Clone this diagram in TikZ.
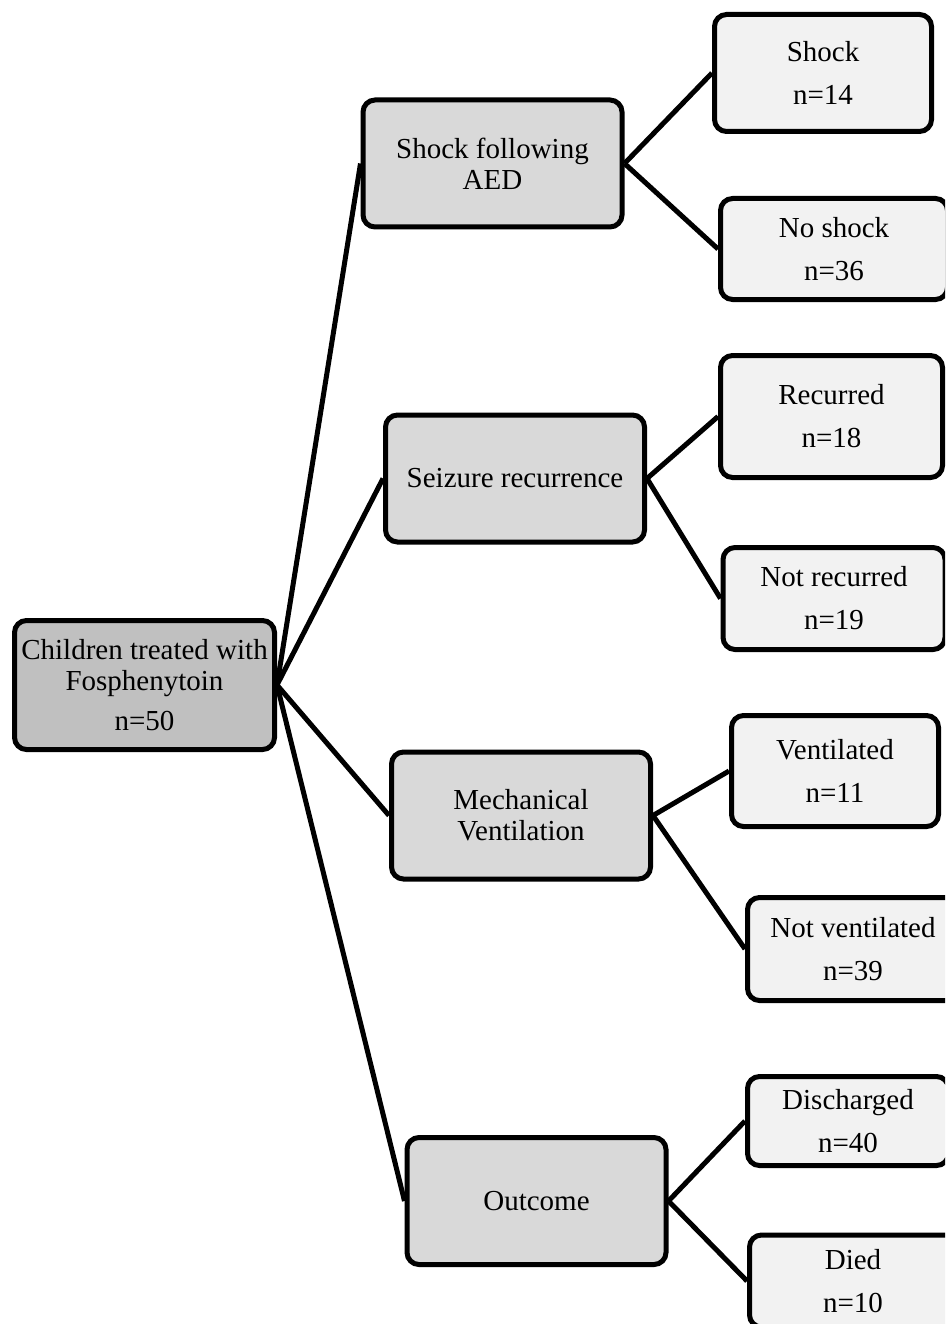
\documentclass[tikz,border=0pt]{standalone}
\usepackage{fontspec}
\setmainfont{Liberation Serif}
\definecolor{rootgray}{HTML}{C0C0C0}
\definecolor{midgray}{HTML}{D9D9D9}
\definecolor{leafgray}{HTML}{F2F2F2}
\begin{document}
\begin{tikzpicture}[x=1pt,y=-1pt,line width=5pt,
		box/.style={draw,rounded corners=12pt,align=center,inner sep=2pt,font=\fontsize{29}{31}\selectfont},
		rootbox/.style={box,fill=rootgray,minimum width=260pt,minimum height=129pt},
		midbox/.style={box,fill=midgray,minimum width=259pt,minimum height=127pt},
		leafbox/.style={box,fill=leafgray}]
		\path[use as bounding box,clip] (0,0) rectangle (945,1324);
		\node[rootbox] (fos) at (144.5,685) {Children treated with\\Fosphenytoin\\[9pt]n=50};
		\node[midbox] (shockq) at (492.5,163.5) {Shock following\\AED};
		\node[midbox] (seiz) at (515,478.5) {Seizure recurrence};
		\node[midbox] (mech) at (521,815.5) {Mechanical\\Ventilation};
		\node[midbox] (outc) at (536.5,1201) {Outcome};
		\node[leafbox,minimum width=217pt,minimum height=117pt] (shock) at (823,73) {Shock\\[12pt]n=14};
		\node[leafbox,minimum width=227pt,minimum height=101pt] (noshock) at (834,249) {No shock\\[12pt]n=36};
		\node[leafbox,minimum width=222pt,minimum height=122pt] (rec) at (831.5,416.5) {Recurred\\[12pt]n=18};
		\node[leafbox,minimum width=222pt,minimum height=102pt] (norec) at (834,598.5) {Not recurred\\[12pt]n=19};
		\node[leafbox,minimum width=207pt,minimum height=111pt] (vent) at (835,771) {Ventilated\\[12pt]n=11};
		\node[leafbox,minimum width=211pt,minimum height=103pt] (novent) at (853,949) {Not ventilated\\[12pt]n=39};
		\node[leafbox,minimum width=201pt,minimum height=89pt] (disch) at (848,1121) {Discharged\\[12pt]n=40};
		\node[leafbox,minimum width=207pt,minimum height=92pt] (died) at (853,1281) {Died\\[12pt]n=10};
		\draw (fos.east) -- (shockq.west);
		\draw (fos.east) -- (seiz.west);
		\draw (fos.east) -- (mech.west);
		\draw (fos.east) -- (outc.west);
		\draw (shockq.east) -- (shock.west);
		\draw (shockq.east) -- (noshock.west);
		\draw (seiz.east) -- (rec.west);
		\draw (seiz.east) -- (norec.west);
		\draw (mech.east) -- (vent.west);
		\draw (mech.east) -- (novent.west);
		\draw (outc.east) -- (disch.west);
		\draw (outc.east) -- (died.west);
\end{tikzpicture}
\end{document}
